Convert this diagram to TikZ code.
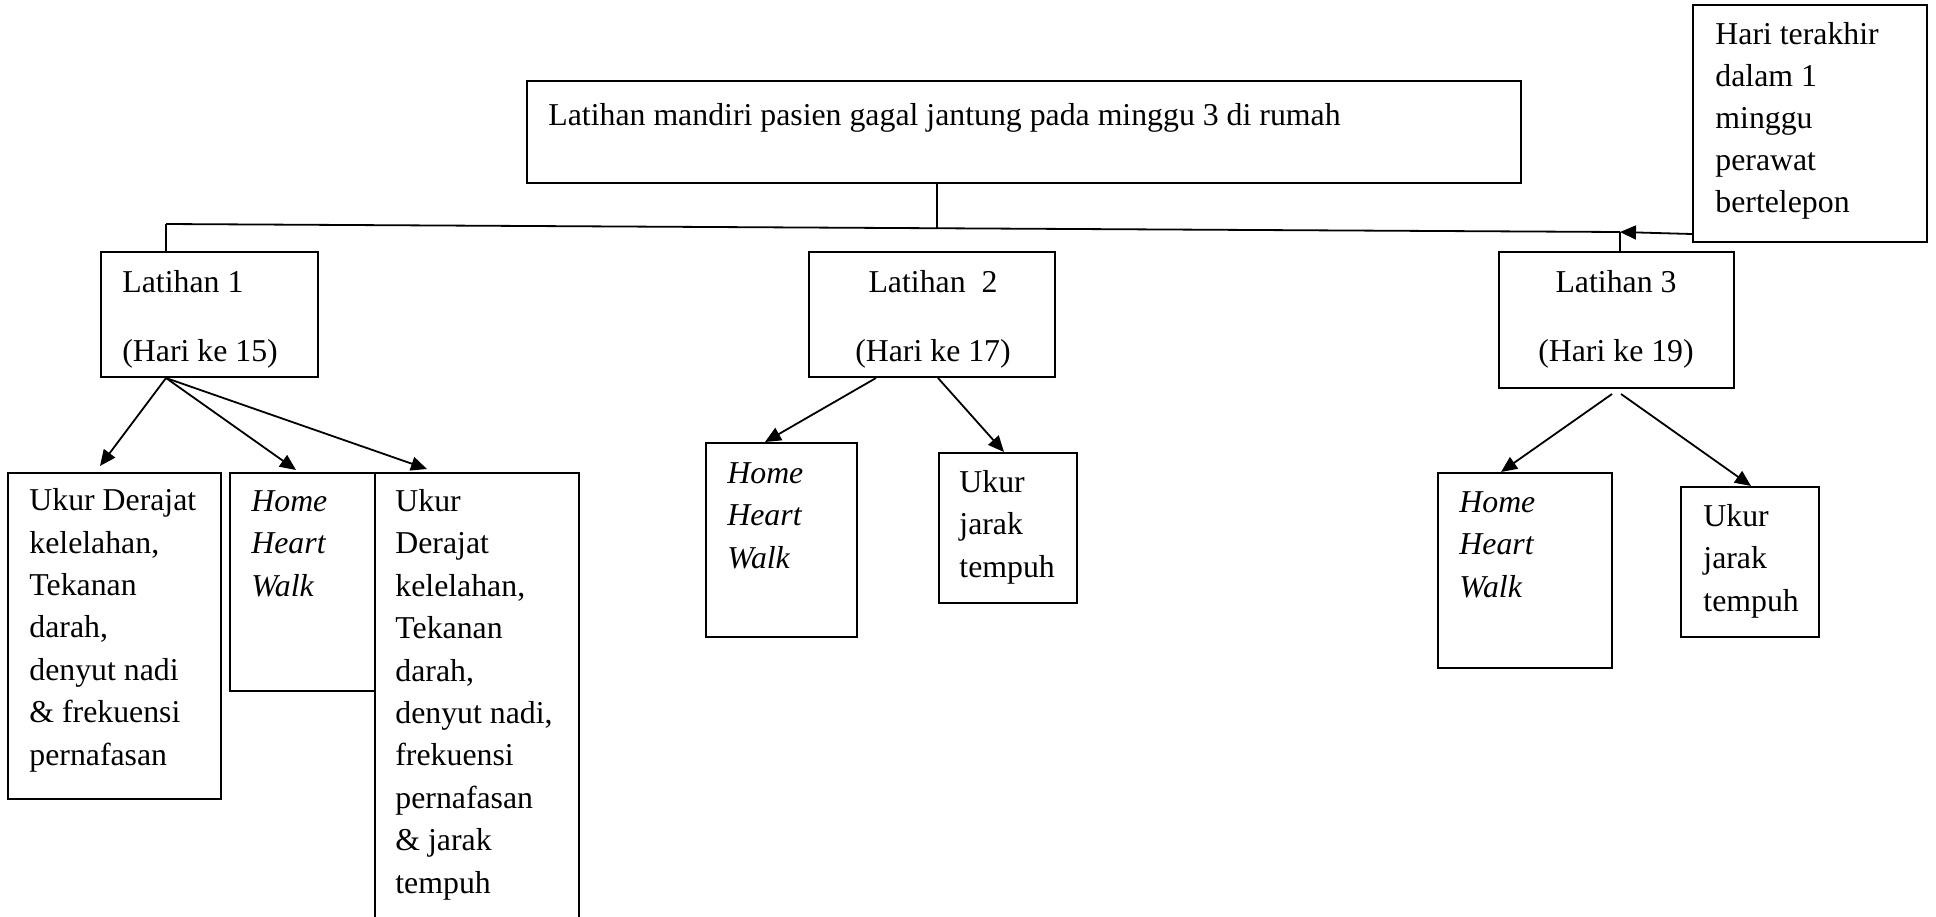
\documentclass[tikz,border=0pt]{standalone}
\usepackage{fontspec}
\setmainfont{Liberation Serif}
\usetikzlibrary{arrows.meta,calc,fit}
\tikzset{
  box/.style={draw=black, line width=1pt, inner sep=0pt, fill=none},
  txt/.style={inner sep=0pt, align=left, font=\fontsize{15.9pt}{21.2pt}\selectfont},
  ctxt/.style={inner sep=0pt, align=center, font=\fontsize{15.9pt}{21.2pt}\selectfont},
  conn/.style={line width=0.9pt, draw=black},
  arr/.style={line width=0.9pt, draw=black, -{Triangle[length=8pt,width=7pt]}}
}
\begin{document}
\begin{tikzpicture}[x=0.5pt,y=-0.5pt]
\clip (0,0) rectangle (1936,916);
\fill[white] (0,0) rectangle (1936,916);
% boxes
\node[box, fit={(527,81) (1521,183)}] (top) {};
\node[box, fit={(1693,5) (1927,242)}] (hari) {};
\node[box, fit={(101,252) (318,377)}] (l1) {};
\node[box, fit={(809,252) (1055,377)}] (l2) {};
\node[box, fit={(1499,252) (1734,388)}] (l3) {};
\node[box, fit={(8,473) (221,799)}] (a) {};
\node[box, fit={(230,473) (375,691)}] (hhwa) {};
\node[box, fit={(375,473) (579,940)}] (c) {};
\node[box, fit={(706,443) (857,637)}] (hhwb) {};
\node[box, fit={(939,453) (1077,603)}] (ukb) {};
\node[box, fit={(1438,473) (1612,668)}] (hhwc) {};
\node[box, fit={(1681,487) (1819,637)}] (ukc) {};
% texts (anchor base = baseline of the last line)
\node[txt, anchor=base west] (ttop) at (548,125) {Latihan mandiri pasien gagal jantung pada minggu 3 di rumah};
\node[txt, anchor=base west, font=\fontsize{15.9pt}{20.9pt}\selectfont] (thari) at (1715,212) {Hari terakhir\\dalam 1\\minggu\\perawat\\bertelepon};
\node[txt, anchor=base west] (tl1) at (122,361) {Latihan 1\\[13.3pt](Hari ke 15)};
\node[ctxt, anchor=base] (tl2) at (933,361) {Latihan\ \ 2\\[13.3pt](Hari ke 17)};
\node[ctxt, anchor=base] (tl3) at (1616,361) {Latihan 3\\[13.3pt](Hari ke 19)};
\node[txt, anchor=base west] (ta) at (29,765) {Ukur Derajat\\kelelahan,\\Tekanan\\darah,\\denyut nadi\\\& frekuensi\\pernafasan};
\node[txt, anchor=base west] (thhwa) at (251,596) {\itshape Home\\\itshape Heart\\\itshape Walk};
\node[txt, anchor=base west] (tc) at (395,893) {Ukur\\Derajat\\kelelahan,\\Tekanan\\darah,\\denyut nadi,\\frekuensi\\pernafasan\\\& jarak\\tempuh};
\node[txt, anchor=base west] (thhwb) at (727,568) {\itshape Home\\\itshape Heart\\\itshape Walk};
\node[txt, anchor=base west] (tukb) at (959,577) {Ukur\\jarak\\tempuh};
\node[txt, anchor=base west] (thhwc) at (1459,597) {\itshape Home\\\itshape Heart\\\itshape Walk};
\node[txt, anchor=base west] (tukc) at (1703,611) {Ukur\\jarak\\tempuh};
% junctions
\coordinate (jl) at ($(l1.north west)+(66,-27)$);
\coordinate (jr) at ($(l3.north west)+(122,-19)$);
\draw[conn] (jl) -- (jr);
\draw[conn] ($(top.south west)+(411,0)$) -- ($(jl)!0.5303!(jr)$);
\draw[conn] (jl) -- ($(l1.north west)+(66,0)$);
\draw[conn] (jr) -- ($(l3.north west)+(122,0)$);
\draw[arr] ($(hari.south west)+(0,-9)$) -- (jr);
% arrows from Latihan 1
\draw[arr] ($(l1.south west)+(66,0)$) -- ($(a.north west)+(93,-6)$);
\draw[arr] ($(l1.south west)+(66,0)$) -- ($(hhwa.north west)+(67,-2)$);
\draw[arr] ($(l1.south west)+(66,0)$) -- ($(c.north west)+(53,-3)$);
% arrows from Latihan 2
\draw[arr] ($(l2.south west)+(68,0)$) -- ($(hhwb.north west)+(60,0)$);
\draw[arr] ($(l2.south west)+(130,0)$) -- ($(ukb.north west)+(66,0)$);
% arrows from Latihan 3
\draw[arr] ($(l3.south west)+(114,5)$) -- ($(hhwc.north west)+(64,0)$);
\draw[arr] ($(l3.south west)+(123,5)$) -- ($(ukc.north west)+(71,0)$);
\end{tikzpicture}
\end{document}
